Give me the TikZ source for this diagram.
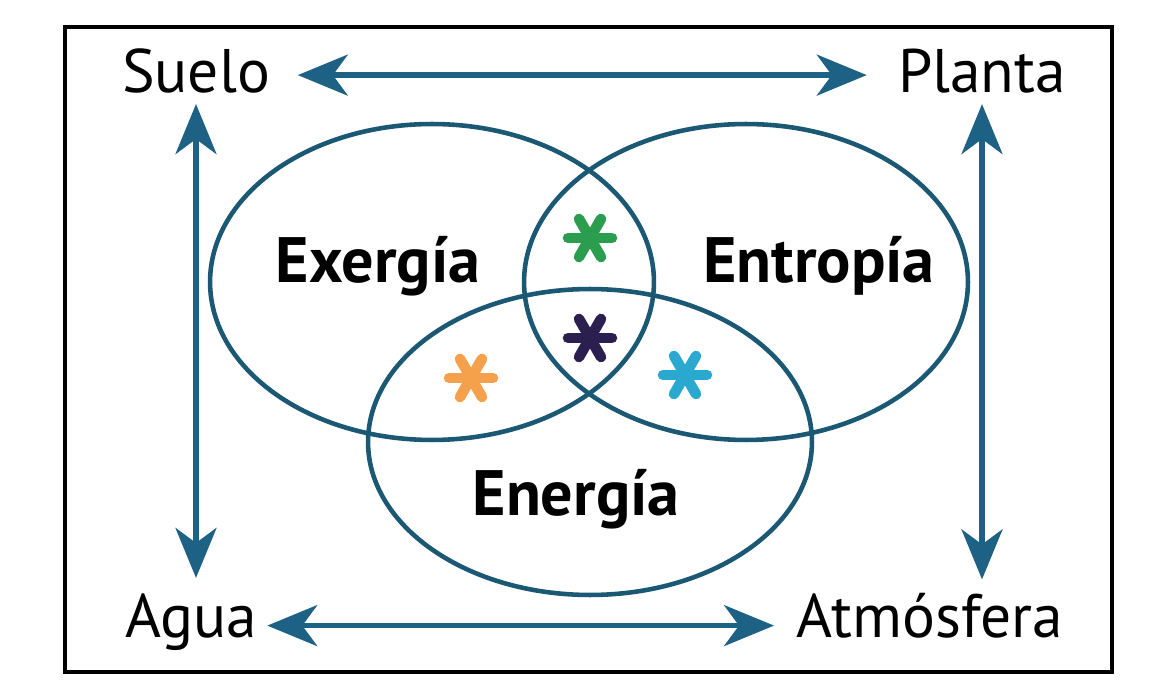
\documentclass[tikz,border=0pt]{standalone}
\usepackage{fontspec}
\setmainfont{PT Sans}
\usetikzlibrary{arrows.meta}
\definecolor{azulflecha}{HTML}{1D6185}
\definecolor{azullazo}{HTML}{1B5873}
\definecolor{verdeast}{HTML}{2A9D4E}
\definecolor{moradoast}{HTML}{2B1F4F}
\definecolor{naranjaast}{HTML}{F5A04A}
\definecolor{celesteast}{HTML}{2AA8D0}
\tikzset{
  flecha/.style={azulflecha, line width=3pt,
    {Stealth[length=1cm,width=0.82cm,inset=0.3cm]}-{Stealth[length=1cm,width=0.82cm,inset=0.3cm]}},
  lazo/.style={azullazo, line width=2.6pt},
  rotulo/.style={inner sep=0pt, anchor=base, font=\fontsize{35}{38}\selectfont},
  etiqueta/.style={inner sep=0pt, anchor=base, font=\fontsize{36.5}{40}\selectfont\bfseries}
}
\newcommand{\asterisco}[2]
{   \foreach \a in {0,60,...,300}
      \draw[#2, line width=6pt, line cap=round] (#1) -- ++(\a:22);
}

\begin{document}
\begin{tikzpicture}[x=0.02cm, y=-0.02cm]
  \useasboundingbox (0,0) rectangle (1168,688);
  \draw[line width=2.4pt] (65,27) rectangle (1112,672);

  % los tres lazos
  \draw[lazo] (432,282) ellipse [x radius=4.44cm, y radius=3.16cm];
  \draw[lazo] (746,282) ellipse [x radius=4.44cm, y radius=3.16cm];
  \draw[lazo] (590,442) ellipse [x radius=4.44cm, y radius=3.06cm];

  \node[etiqueta] (exergia) at (378,283) {Exergía};
  \node[etiqueta] (entropia) at (819,283) {Entropía};
  \node[etiqueta] (energia) at (576,515) {Energía};

  \asterisco{590,238}{verdeast}
  \asterisco{590,338}{moradoast}
  \asterisco{471,378}{naranjaast}
  \asterisco{685,375}{celesteast}

  % esquinas
  \node[rotulo] (suelo) at (196,93) {Suelo};
  \node[rotulo] (planta) at (982,93) {Planta};
  \node[rotulo] (agua) at (191,637) {Agua};
  \node[rotulo] (atmosfera) at (930,637) {Atmósfera};

  \draw[flecha, shorten <=0.55cm, shorten >=0.62cm] ([yshift=0.27cm]suelo.mid east) -- ([yshift=0.27cm]planta.mid west);
  \draw[flecha, shorten <=0.2cm, shorten >=0.45cm] ([yshift=0.14cm]agua.mid east) -- ([yshift=0.14cm]atmosfera.mid west);
  \draw[flecha, shorten <=0.2cm, shorten >=0.3cm] (suelo.south) -- (suelo.south |- agua.north);
  \draw[flecha, shorten <=0.2cm, shorten >=0.26cm] (planta.south) -- (planta.south |- atmosfera.north);
\end{tikzpicture}
\end{document}
